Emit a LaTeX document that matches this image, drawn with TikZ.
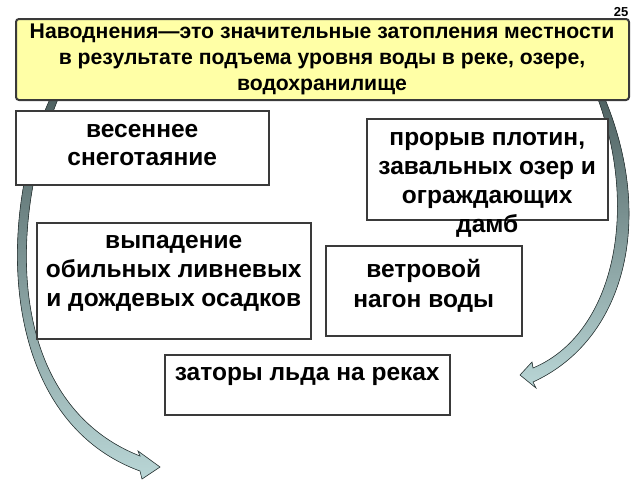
\documentclass[tikz,border=0pt]{standalone}
\usepackage{fontspec}
\setmainfont{Liberation Sans}
\definecolor{boxline}{HTML}{3A3A3A}
\definecolor{topfill}{HTML}{FFFFA6}
\definecolor{arrdark}{HTML}{4F6262}
\definecolor{arrlight}{HTML}{B9D6D6}
\definecolor{arrline}{HTML}{2F3B3B}
\begin{document}
\begin{tikzpicture}[x=1pt,y=-1pt,
  box/.style={draw=boxline,line width=1.5pt,fill=white,inner sep=0pt},
  topbox/.style={draw=boxline,line width=2pt,fill=topfill,rounded corners=3pt,inner sep=0pt},
  txt/.style={font=\bfseries\fontsize{24.5}{28.3}\selectfont,align=center,inner sep=0pt,anchor=north},
  toptxt/.style={font=\bfseries\fontsize{21.2}{26}\selectfont,align=center,inner sep=0pt,anchor=north},
  arr/.style={draw=arrline,line width=0.6pt,top color=arrdark,bottom color=arrlight}
]
\useasboundingbox (0,0) rectangle (640,480);
% curved arrows
\coordinate (lstartA) at (50,99);
\coordinate (lstartB) at (58,99);
\fill[arr] (lstartA) .. controls (-5,220) and (0,420) .. (140,471)
  -- (142,479) -- (160,467) -- (138,451) -- (140,456)
  .. controls (10,405) and (5,230) .. (lstartB) -- cycle;
\coordinate (rstartA) at (605,99);
\coordinate (rstartB) at (598,99);
\fill[arr] (rstartA) .. controls (655,220) and (625,340) .. (533,382)
  -- (536,388) -- (520,375) -- (532,362) -- (533,368)
  .. controls (612,335) and (640,215) .. (rstartB) -- cycle;
% top box
\node[topbox,minimum width=613,minimum height=81,anchor=north west] (top) at (15,18) {};
\node[toptxt] (toptext) at (322,24) {Наводнения—это значительные затопления местности\\в результате подъема уровня воды в реке, озере,\\водохранилище};
\node[font=\bfseries\fontsize{13}{13}\selectfont,inner sep=0pt] (num) at (621,12) {25};
% boxes
\node[box,minimum width=253,minimum height=74,anchor=north west] (b1) at (15,110) {};
\node[txt] (t1) at ([yshift=-14]b1.north) {весеннее\\снеготаяние};
\node[box,minimum width=241,minimum height=101,anchor=north west] (b2) at (366,118) {};
\node[txt,font=\bfseries\fontsize{24.5}{29}\selectfont] (t2) at ([yshift=-14]b2.north) {прорыв плотин,\\завальных озер и\\ограждающих\\дамб};
\node[box,minimum width=274,minimum height=116,anchor=north west] (b3) at (36,222) {};
\node[txt,font=\bfseries\fontsize{24.5}{28.7}\selectfont] (t3) at ([yshift=-13.6]b3.north) {выпадение\\обильных ливневых\\и дождевых осадков};
\node[box,minimum width=196,minimum height=90,anchor=north west] (b4) at (325,245) {};
\node[txt,font=\bfseries\fontsize{24.5}{30}\selectfont] (t4) at ([yshift=-14]b4.north) {ветровой\\нагон воды};
\node[box,minimum width=285,minimum height=60,anchor=north west] (b5) at (164,354) {};
\node[txt] (t5) at ([yshift=-13.3]b5.north) {заторы льда на реках};
\end{tikzpicture}
\end{document}
